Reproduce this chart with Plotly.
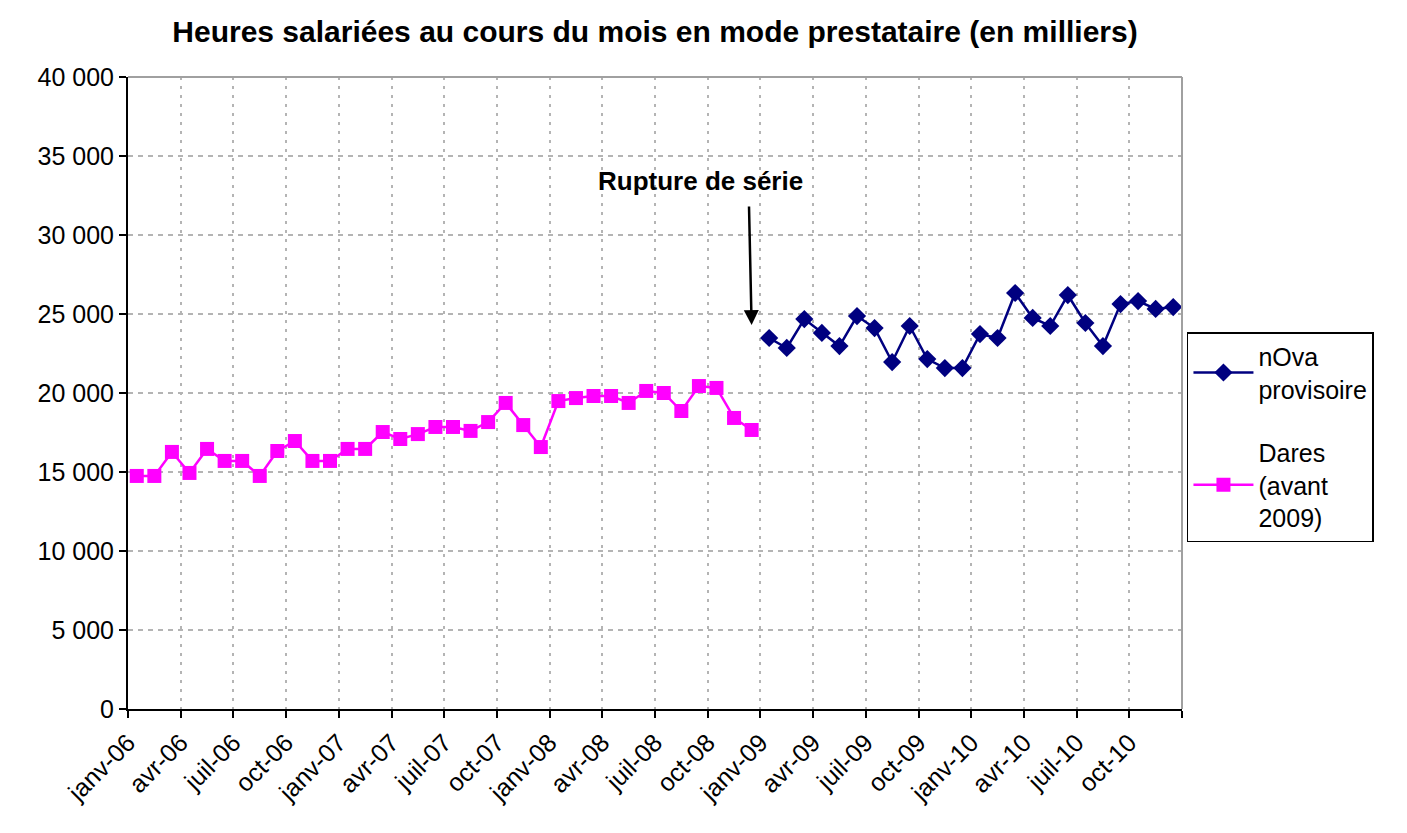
import plotly.graph_objects as go

months = ["janv", "févr", "mars", "avr", "mai", "juin", "juil", "août", "sept", "oct", "nov", "déc"]
years = ["06", "07", "08", "09", "10"]
categories = [f"{m}-{y}" for y in years for m in months]

dares = [14750, 14750, 16270, 14940, 16460, 15700, 15700, 14750, 16330, 16960, 15700, 15700,
         16460, 16460, 17530, 17090, 17400, 17850, 17850, 17600, 18160, 19370, 17970, 16580,
         19490, 19680, 19810, 19810, 19370, 20130, 20000, 18860, 20440, 20320, 18420, 17660]
nova = [23480, 22850, 24680, 23800, 22970, 24870, 24110, 21960, 24240, 22150, 21580, 21580,
        23730, 23480, 26330, 24750, 24240, 26200, 24430, 22970, 25630, 25820, 25320, 25440]

tick_labels = [categories[i] for i in range(0, 60, 3)]

x_all = [i + 0.5 for i in range(len(categories))]
x_dares = x_all[:len(dares)]
x_nova = x_all[len(dares):len(dares) + len(nova)]

fig = go.Figure()
fig.add_trace(go.Scatter(
    x=x_nova, y=nova, mode="lines+markers", name="nOva<br>provisoire",
    legendgroup="nova",
    line=dict(color="#000080", width=2.5),
    marker=dict(symbol="diamond", size=14, color="#000080"),
))
fig.add_trace(go.Scatter(
    x=x_dares, y=dares, mode="lines+markers", name="Dares<br>(avant<br>2009)",
    legendgroup="dares",
    line=dict(color="#FF00FF", width=2.5),
    marker=dict(symbol="square", size=14, color="#FF00FF"),
))

font_family = "Liberation Sans, Arial, sans-serif"

fig.update_layout(
    width=1407, height=833,
    margin=dict(l=120, r=233, t=69, b=132),
    plot_bgcolor="white", paper_bgcolor="white",
    separators=", ",
    font=dict(family=font_family, size=25, color="black"),
    title=dict(text="<b>Heures salariées au cours du mois en mode prestataire (en milliers)</b>",
               x=0.5, xanchor="center", xref="paper", y=0.972, yanchor="middle",
               font=dict(size=30, family=font_family)),
    xaxis=dict(
        range=[0, 60], tickmode="array",
        tickvals=list(range(0, 61, 3)),
        ticktext=tick_labels + [""],
        tickangle=-45, ticks="outside", ticklen=7, tickwidth=2, tickcolor="black",
        showline=True, linecolor="black", linewidth=2,
        showgrid=True, gridcolor="#b4b4b4", gridwidth=2, griddash="3px,6px",
        zeroline=False, tickfont=dict(size=25), automargin=False,
    ),
    yaxis=dict(
        range=[0, 40000], tickvals=list(range(0, 40001, 5000)),
        tickformat=",d",
        ticks="outside", ticklen=7, tickwidth=2, tickcolor="black",
        showline=True, linecolor="black", linewidth=2,
        showgrid=True, gridcolor="#b4b4b4", gridwidth=2, griddash="5px,5px",
        zeroline=False, tickfont=dict(size=25), automargin=False,
    ),
    legend=dict(
        x=1.0047, xanchor="left", y=0.5965, yanchor="top",
        bordercolor="black", borderwidth=1.5, bgcolor="white",
        font=dict(size=25), tracegroupgap=28,
        itemwidth=60,
    ),
    shapes=[
        dict(type="line", xref="paper", yref="paper", x0=0, x1=1, y0=1, y1=1,
             line=dict(color="#a0a0a0", width=2)),
        dict(type="line", xref="paper", yref="paper", x0=1, x1=1, y0=0, y1=1,
             line=dict(color="#a0a0a0", width=2)),
    ],
    annotations=[
        dict(x=32.6, y=33400, xref="x", yref="y", text="<b>Rupture de série</b>",
             showarrow=False, font=dict(size=26, family=font_family)),
        dict(x=35.5, y=24300, xref="x", yref="y", ax=35.35, ay=31900,
             axref="x", ayref="y", text="", showarrow=True,
             arrowhead=2, arrowsize=1.2, arrowwidth=2.5, arrowcolor="black"),
    ],
)

fig.write_html("out.html")
